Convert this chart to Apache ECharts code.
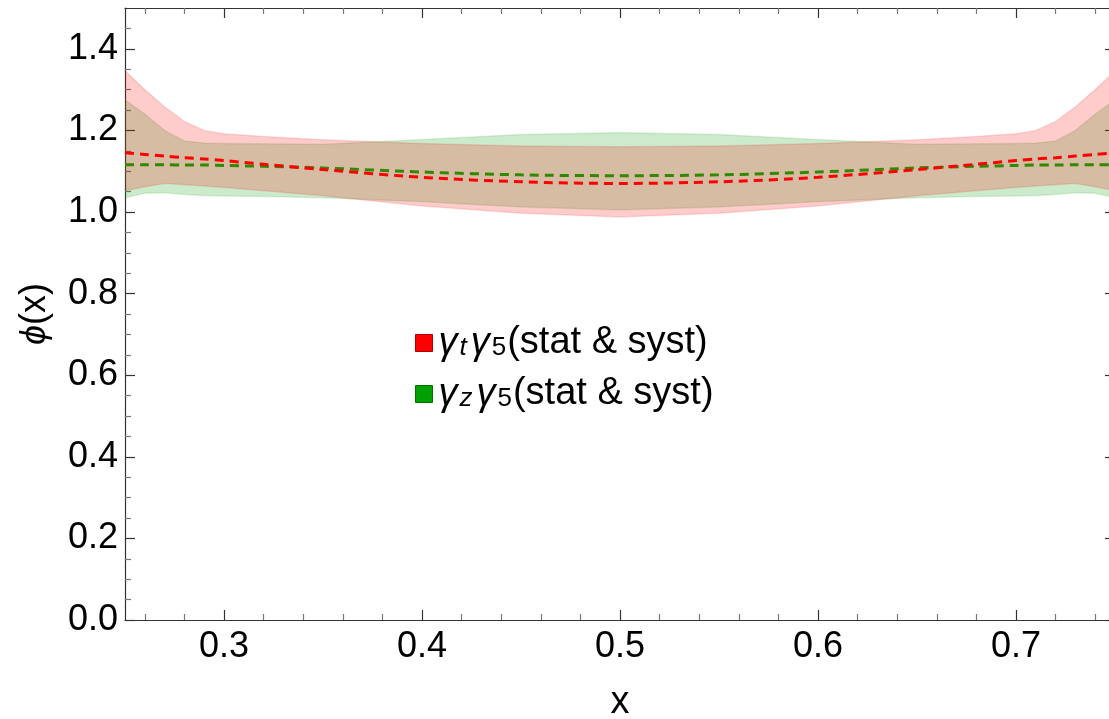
<!DOCTYPE html>
<html>
<head>
<meta charset="utf-8">
<style>
  html, body { margin: 0; padding: 0; background: #fff; }
  #chart { width: 1109px; height: 719px; }
</style>
<script src="https://cdn.jsdelivr.net/npm/echarts@6/dist/echarts.min.js"></script>
</head>
<body>
<div id="chart"></div>
<script>
// sample points along x
const xs = [0.25, 0.26, 0.27, 0.28, 0.29, 0.30, 0.32, 0.35, 0.40, 0.45, 0.50,
            0.55, 0.60, 0.65, 0.68, 0.70, 0.71, 0.72, 0.73, 0.74, 0.75];

// gamma_t gamma_5 band (red)
const redUpper = [1.346, 1.300, 1.258, 1.222, 1.200, 1.192, 1.185, 1.177, 1.168, 1.162, 1.160,
                  1.162, 1.168, 1.177, 1.185, 1.192, 1.200, 1.222, 1.258, 1.300, 1.346];
const redLower = [1.052, 1.062, 1.070, 1.067, 1.064, 1.060, 1.052, 1.040, 1.015, 0.997, 0.988,
                  0.997, 1.015, 1.040, 1.052, 1.060, 1.064, 1.067, 1.070, 1.062, 1.052];
const redCenter = [1.145, 1.141, 1.137, 1.133, 1.130, 1.126, 1.117, 1.104, 1.085, 1.074, 1.070,
                   1.074, 1.085, 1.104, 1.117, 1.126, 1.130, 1.133, 1.137, 1.141, 1.145];

// gamma_z gamma_5 band (green)
const greenUpper = [1.275, 1.240, 1.200, 1.174, 1.169, 1.168, 1.167, 1.166, 1.178, 1.190, 1.195,
                    1.190, 1.178, 1.166, 1.167, 1.168, 1.169, 1.174, 1.200, 1.240, 1.275];
const greenLower = [1.035, 1.046, 1.047, 1.043, 1.040, 1.039, 1.038, 1.035, 1.025, 1.012, 1.005,
                    1.012, 1.025, 1.035, 1.038, 1.039, 1.040, 1.043, 1.047, 1.046, 1.035];
const greenCenter = [1.116, 1.116, 1.116, 1.115, 1.115, 1.114, 1.112, 1.108, 1.098, 1.091, 1.089,
                     1.091, 1.098, 1.108, 1.112, 1.114, 1.115, 1.115, 1.116, 1.116, 1.116];

// ticks
const xMajor = [0.3, 0.4, 0.5, 0.6, 0.7];
const xMinor = [0.26, 0.28, 0.32, 0.34, 0.36, 0.38, 0.42, 0.44, 0.46, 0.48,
                0.52, 0.54, 0.56, 0.58, 0.62, 0.64, 0.66, 0.68, 0.72, 0.74];
const yMajor = [0, 0.2, 0.4, 0.6, 0.8, 1.0, 1.2, 1.4];
const yMinor = [0.05, 0.1, 0.15, 0.25, 0.3, 0.35, 0.45, 0.5, 0.55, 0.65, 0.7, 0.75,
                0.85, 0.9, 0.95, 1.05, 1.1, 1.15, 1.25, 1.3, 1.35, 1.45];

const FONT = "'Liberation Sans', Arial, sans-serif";
const pts = (ys) => xs.map((x, i) => [x, ys[i]]);

const axisCol = '#333';
const minorCol = '#777';

function xAx(pos, ticks, len, major, extra) {
  return Object.assign({
    type: 'value', min: 0.25, max: 0.75, position: pos,
    axisLine: { show: major, onZero: false, lineStyle: { color: axisCol, width: 1.2 } },
    axisTick: { show: true, inside: true, length: len, customValues: ticks,
                lineStyle: { color: major ? axisCol : minorCol, width: 1.2 } },
    axisLabel: { show: false },
    splitLine: { show: false }
  }, extra || {});
}
function yAx(pos, ticks, len, major, extra) {
  return Object.assign({
    type: 'value', min: 0, max: 1.5, position: pos,
    axisLine: { show: major, onZero: false, lineStyle: { color: axisCol, width: 1.2 } },
    axisTick: { show: true, inside: true, length: len, customValues: ticks,
                lineStyle: { color: major ? axisCol : minorCol, width: 1.2 } },
    axisLabel: { show: false },
    splitLine: { show: false }
  }, extra || {});
}

// filled band between lower and upper, drawn through the axes' scales
function band(name, lower, upper, fill, edge) {
  return {
    type: 'custom', name: name, silent: true,
    data: xs.map((x, i) => [x, lower[i], upper[i]]),
    encode: { x: 0, y: [1, 2] },
    itemStyle: { color: fill },
    renderItem: (params, api) => {
      if (params.dataIndex !== 0) return;
      const up = xs.map((x, i) => api.coord([x, upper[i]]));
      const lo = xs.map((x, i) => api.coord([x, lower[i]]));
      return {
        type: 'group',
        children: [
          { type: 'polygon', shape: { points: up.concat(lo.slice().reverse()) },
            style: { fill: fill, stroke: null } },
          { type: 'polyline', shape: { points: up }, style: { stroke: edge, lineWidth: 1.5, fill: null } },
          { type: 'polyline', shape: { points: lo }, style: { stroke: edge, lineWidth: 1.5, fill: null } }
        ]
      };
    }
  };
}

const chart = echarts.init(document.getElementById('chart'));

chart.setOption({
  animation: false,
  backgroundColor: '#fff',
  textStyle: { fontFamily: FONT },
  grid: { left: 125, right: -6, top: 8, bottom: 99, outerBoundsMode: 'none' },
  xAxis: [
    xAx('bottom', xMajor, 10, true, {
      axisLabel: { show: true, customValues: xMajor, margin: 9, fontSize: 36, color: '#000',
                   fontFamily: FONT, formatter: v => v.toFixed(1) },
      name: 'x', nameLocation: 'middle', nameGap: 64,
      nameTextStyle: { fontSize: 38, color: '#000', fontFamily: FONT }
    }),
    xAx('bottom', xMinor, 6, false),
    xAx('top', xMajor, 10, true),
    xAx('top', xMinor, 6, false)
  ],
  yAxis: [
    yAx('left', yMajor, 10, true, {
      axisLabel: { show: true, customValues: yMajor, margin: 7, fontSize: 36, color: '#000',
                   fontFamily: FONT, formatter: v => v.toFixed(1) },
      name: '{i|ϕ}(x)', nameLocation: 'middle', nameGap: 72,
      nameTextStyle: { fontSize: 36, color: '#000', fontFamily: FONT,
                       rich: { i: { fontStyle: 'italic', fontSize: 36, color: '#000', fontFamily: FONT } } }
    }),
    yAx('left', yMinor, 6, false),
    yAx('right', yMajor, 10, true),
    yAx('right', yMinor, 6, false)
  ],
  legend: {
    orient: 'vertical', left: 410, top: 319, itemGap: 13,
    itemWidth: 17, itemHeight: 17, selectedMode: false,
    data: [
      { name: 'gt', icon: 'rect', itemStyle: { color: '#ff0000', opacity: 1, borderColor: '#b00000', borderWidth: 1 } },
      { name: 'gz', icon: 'rect', itemStyle: { color: '#00a000', opacity: 1, borderColor: '#007000', borderWidth: 1 } }
    ],
    formatter: name => name === 'gt'
      ? '{g|γ}{s|t}{g|γ}{n|5}{m|(stat & syst)}'
      : '{g|γ}{s|z}{g|γ}{n|5}{m|(stat & syst)}',
    textStyle: {
      color: '#000', fontFamily: FONT, fontSize: 38,
      rich: {
        g: { fontSize: 38, fontStyle: 'italic', color: '#000', fontFamily: FONT, padding: [0, 1, 0, 1] },
        s: { fontSize: 26, fontStyle: 'italic', color: '#000', fontFamily: FONT, padding: [10, 3, 0, 1] },
        n: { fontSize: 26, color: '#000', fontFamily: FONT, padding: [10, 1, 0, 1] },
        m: { fontSize: 38, color: '#000', fontFamily: FONT }
      }
    }
  },
  series: [
    band('gz', greenLower, greenUpper, 'rgba(0,155,0,0.2)', 'rgba(0,150,0,0.12)'),
    band('gt', redLower, redUpper, 'rgba(255,0,0,0.2)', 'rgba(220,0,0,0.12)'),
    {
      type: 'line', name: 'gzCenter', data: pts(greenCenter),
      symbol: 'none', smooth: 0.3, silent: true,
      lineStyle: { color: '#338800', width: 3, type: [9, 6] }
    },
    {
      type: 'line', name: 'gtCenter', data: pts(redCenter),
      symbol: 'none', smooth: 0.3, silent: true,
      lineStyle: { color: '#ff0000', width: 3, type: [9, 6] }
    }
  ]
});
</script>
</body>
</html>
